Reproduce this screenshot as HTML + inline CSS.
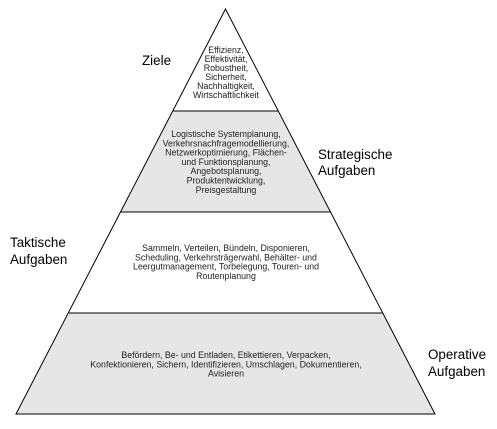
<!DOCTYPE html>
<html><head><meta charset="utf-8"><style>
body{margin:0;background:#fff;width:497px;height:424px;overflow:hidden}
</style></head><body>
<svg width="497" height="424" viewBox="0 0 497 424" xmlns="http://www.w3.org/2000/svg" font-family="Liberation Sans, sans-serif">
<polygon points="173,111 278,111 330,212 121,212" fill="#e6e6e6"/>
<polygon points="69,313 382,313 435,414 16,414" fill="#e6e6e6"/>
<polygon points="225.5,9 435,414 16,414" fill="none" stroke="#000" stroke-width="1"/>
<line x1="173" y1="111" x2="278" y2="111" stroke="#000"/>
<line x1="121" y1="212" x2="330" y2="212" stroke="#000"/>
<line x1="69" y1="313" x2="382" y2="313" stroke="#000"/>
<g font-size="8.8" fill="#222" text-anchor="middle">
<text x="226" y="53">Effizienz,</text>
<text x="226" y="62">Effektivität,</text>
<text x="226" y="71">Robustheit,</text>
<text x="226" y="80">Sicherheit,</text>
<text x="226" y="89">Nachhaltigkeit,</text>
<text x="226" y="98">Wirtschaftlichkeit</text>
<text x="226" y="137">Logistische Systemplanung,</text>
<text x="226" y="146.3">Verkehrsnachfragemodellierung,</text>
<text x="226" y="155.6">Netzwerkoptimierung, Flächen-</text>
<text x="226" y="164.9">und Funktionsplanung,</text>
<text x="226" y="174.2">Angebotsplanung,</text>
<text x="226" y="183.5">Produktentwicklung,</text>
<text x="226" y="192.8">Preisgestaltung</text>
<text x="226" y="251">Sammeln, Verteilen, Bündeln, Disponieren,</text>
<text x="226" y="260.3">Scheduling,  Verkehrsträgerwahl, Behälter- und</text>
<text x="226" y="269.6">Leergutmanagement, Torbelegung, Touren- und</text>
<text x="226" y="278.9">Routenplanung</text>
<text x="226" y="358">Befördern, Be- und Entladen, Etikettieren, Verpacken,</text>
<text x="226" y="367.3">Konfektionieren, Sichern, Identifizieren, Umschlagen, Dokumentieren,</text>
<text x="226" y="376.6">Avisieren</text>
</g>
<g font-size="13.4" fill="#000">
<text x="142" y="65">Ziele</text>
<text x="318" y="159">Strategische</text>
<text x="318" y="175">Aufgaben</text>
<text x="10" y="247">Taktische</text>
<text x="10" y="264">Aufgaben</text>
<text x="428" y="359">Operative</text>
<text x="428" y="376">Aufgaben</text>
</g>
</svg>
</body></html>
